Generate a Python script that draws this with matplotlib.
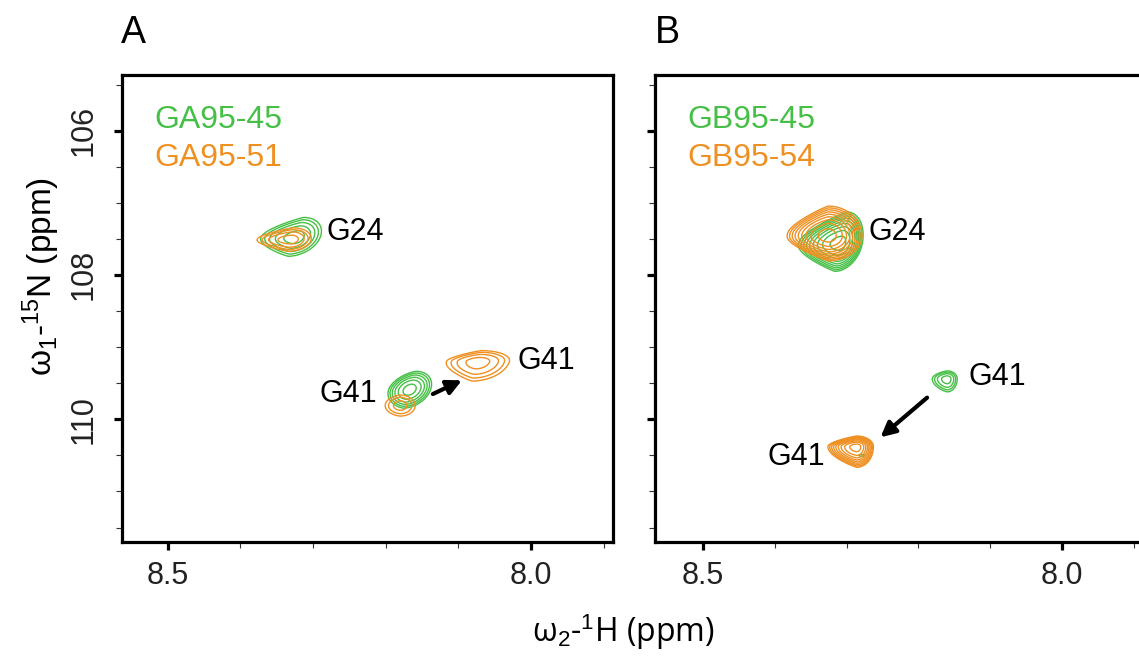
import numpy as np
import matplotlib
matplotlib.use("Agg")
import matplotlib.pyplot as plt
from matplotlib.ticker import FixedLocator

plt.rcParams['font.family'] = ['Liberation Sans', 'DejaVu Sans']
plt.rcParams['mathtext.fontset'] = 'custom'
plt.rcParams['mathtext.rm'] = 'Liberation Sans'
plt.rcParams['mathtext.it'] = 'Liberation Sans:italic'

GREEN = '#45bf45'
ORANGE = '#ef9022'

# ---- peak tables: 1H shift, 15N shift, height, widths (left/right in 1H, up/down in 15N), shear, taper
# Panel A: GA95-45 (green) and GA95-51 (orange)
a_green_h     = [8.324, 8.167]
a_green_n     = [107.48, 109.59]
a_green_amp   = [3.26, 4.23]
a_green_sxl   = [0.031, 0.017]
a_green_sxr   = [0.022, 0.017]
a_green_syu   = [0.18, 0.15]
a_green_syd   = [0.17, 0.15]
a_green_shear = [0.04, 0.035]
a_green_taper = [0.30, 0.10]

a_orange_h     = [8.331, 8.180, 8.073]
a_orange_n     = [107.51, 109.81, 109.20]
a_orange_amp   = [2.50, 1.93, 2.50]
a_orange_sxl   = [0.034, 0.018, 0.032]
a_orange_sxr   = [0.021, 0.018, 0.032]
a_orange_syu   = [0.12, 0.127, 0.112]
a_orange_syd   = [0.12, 0.127, 0.20]
a_orange_shear = [0.02, 0.0, 0.03]
a_orange_taper = [0.35, 0.10, 0.35]

# Panel B: GB95-45 (green) and GB95-54 (orange)
b_green_h     = [8.309, 8.160, 8.279]
b_green_n     = [107.57, 109.44, 110.50]
b_green_amp   = [9.30, 2.50, 1.06]
b_green_sxl   = [0.0276, 0.0154, 0.012]
b_green_sxr   = [0.0145, 0.0103, 0.012]
b_green_syu   = [0.21, 0.082, 0.04]
b_green_syd   = [0.18, 0.133, 0.04]
b_green_shear = [0.02, 0.0, 0.0]
b_green_taper = [0.25, 0.20, 0.0]

b_orange_h     = [8.326, 8.286]
b_orange_n     = [107.46, 110.38]
b_orange_amp   = [9.30, 9.30]
b_orange_sxl   = [0.027, 0.019]
b_orange_sxr   = [0.0224, 0.011]
b_orange_syu   = [0.196, 0.07]
b_orange_syd   = [0.163, 0.135]
b_orange_shear = [0.0, 0.0]
b_orange_taper = [0.25, 0.20]

# Contour levels: geometric spacing above the noise floor
LEVEL_BASE = 1.0
LEVEL_FACTOR = 1.3
N_LEVELS = 12

# Assignment labels (1H, 15N, text, alignment)
a_labels = [(8.281, 107.40, 'G24', 'left'),
            (8.018, 109.19, 'G41', 'left'),
            (8.212, 109.65, 'G41', 'right')]
b_labels = [(8.270, 107.41, 'G24', 'left'),
            (8.131, 109.41, 'G41', 'left'),
            (8.330, 110.52, 'G41', 'right')]

# Chemical-shift change arrows (tail -> head)
a_arrow = ((8.135, 109.65), (8.095, 109.46))
b_arrow = ((8.188, 109.70), (8.253, 110.25))

a_legend = ['GA95-45', 'GA95-51']
b_legend = ['GB95-45', 'GB95-54']


def spectrum(X, Y, h, n, amp, sxl, sxr, syu, syd, shear, taper):
    Z = np.zeros_like(X)
    for i in range(len(h)):
        xc = h[i] + shear[i] * (Y - n[i])
        dx = X - xc
        dy = Y - n[i]
        sx = np.where(dx > 0, sxl[i], sxr[i])
        sy = np.where(dy < 0, syu[i], syd[i])
        u = dx / sx
        sy_eff = sy * np.exp(-taper[i] * np.clip(u, 0, None))
        Z += amp[i] * np.exp(-0.5 * (u ** 2 + (dy / sy_eff) ** 2))
    return Z


xg = np.linspace(7.85, 8.62, 1500)
yg = np.linspace(105.0, 112.0, 1400)
X, Y = np.meshgrid(xg, yg)
levels = LEVEL_BASE * LEVEL_FACTOR ** np.arange(N_LEVELS)

fig = plt.figure(figsize=(11.39, 6.62), dpi=100)
W = 0.4311
axA = fig.add_axes([0.1071, 0.1813, W, 0.7054])
axB = fig.add_axes([0.5751, 0.1813, W, 0.7054])

panels = [
    (axA, (8.563, 7.887),
     (a_green_h, a_green_n, a_green_amp, a_green_sxl, a_green_sxr, a_green_syu, a_green_syd, a_green_shear, a_green_taper),
     (a_orange_h, a_orange_n, a_orange_amp, a_orange_sxl, a_orange_sxr, a_orange_syu, a_orange_syd, a_orange_shear, a_orange_taper),
     a_labels, a_arrow, a_legend, True),
    (axB, (8.567, 7.883),
     (b_green_h, b_green_n, b_green_amp, b_green_sxl, b_green_sxr, b_green_syu, b_green_syd, b_green_shear, b_green_taper),
     (b_orange_h, b_orange_n, b_orange_amp, b_orange_sxl, b_orange_sxr, b_orange_syu, b_orange_syd, b_orange_shear, b_orange_taper),
     b_labels, b_arrow, b_legend, False),
]

for ax, xlim, gp, op, labels, arrow, legend, show_y in panels:
    Zo = spectrum(X, Y, *op)
    Zg = spectrum(X, Y, *gp)
    ax.contour(X, Y, Zg, levels=levels, colors=GREEN, linewidths=1.0)
    ax.contour(X, Y, Zo, levels=levels, colors=ORANGE, linewidths=1.0)

    ax.set_xlim(*xlim)
    ax.set_ylim(111.70, 105.23)

    for sp in ax.spines.values():
        sp.set_linewidth(2.3)

    ax.xaxis.set_major_locator(FixedLocator([8.5, 8.0]))
    ax.xaxis.set_minor_locator(FixedLocator([8.4, 8.3, 8.2, 8.1, 7.9]))
    ax.yaxis.set_major_locator(FixedLocator([106, 108, 110]))
    ax.yaxis.set_minor_locator(FixedLocator([105.37, 106.5, 107, 107.5, 108.5, 109,
                                             109.5, 110.5, 111, 111.5]))
    ax.set_xticklabels(['8.5', '8.0'])
    ax.tick_params(which='major', direction='out', length=6, width=2.3,
                   labelsize=22, labelcolor='#222222', color='black')
    ax.tick_params(which='minor', direction='out', length=4.5, width=0.8, color='#333333')
    ax.tick_params(axis='x', which='major', pad=8)
    if show_y:
        ax.set_yticklabels(['106', '108', '110'])
        ax.tick_params(axis='y', which='major', pad=11)
        for lab in ax.get_yticklabels():
            lab.set_rotation(90)
            lab.set_va('center')
    else:
        ax.set_yticklabels([])

    for x, y, s, ha in labels:
        ax.text(x, y, s, fontsize=22, ha=ha, va='center', color='black')

    ax.annotate('', xy=arrow[1], xytext=arrow[0],
                arrowprops=dict(arrowstyle='-|>', lw=3, color='black',
                                mutation_scale=22, shrinkA=0, shrinkB=0))

    ax.text(0.065, 0.904, legend[0], transform=ax.transAxes, fontsize=23,
            color=GREEN, ha='left', va='center')
    ax.text(0.065, 0.822, legend[1], transform=ax.transAxes, fontsize=23,
            color=ORANGE, ha='left', va='center')

fig.text(0.106, 0.950, 'A', fontsize=27, ha='left', va='center')
fig.text(0.575, 0.950, 'B', fontsize=27, ha='left', va='center')

fig.text(0.036, 0.582, r'ω$_1$-$^{15}$N (ppm)', rotation=90, fontsize=24,
         ha='center', va='center')
fig.text(0.547, 0.045, r'ω$_2$-$^1$H (ppm)', fontsize=23, ha='center', va='center',
         family=['Open Sans', 'DejaVu Sans'])

fig.savefig('out.png', dpi=100)
